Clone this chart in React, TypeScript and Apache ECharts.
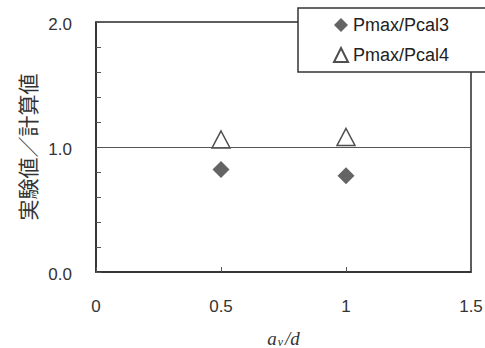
import React, { useEffect, useRef } from "react";
import * as echarts from "echarts";

const xCategories = [0.5, 1];
const seriesNames = ["Pmax/Pcal3", "Pmax/Pcal4"];
const pcal3Values = [0.82, 0.77];
const pcal4Values = [1.06, 1.08];
const xTickLabels = ["0", "0.5", "1", "1.5"];
const yTickLabels = ["0.0", "1.0", "2.0"];

export default function App() {
  const ref = useRef<HTMLDivElement>(null);
  useEffect(() => {
    if (!ref.current) return;
    const chart = echarts.init(ref.current, null, { renderer: "svg" });
    const axisColor = "#2a2a2a";
    chart.setOption({
      animation: false,
      backgroundColor: "#ffffff",
      grid: {
        left: 96,
        top: 22,
        right: 14,
        bottom: 76,
        outerBoundsMode: "none",
        containLabel: false,
        show: true,
        borderColor: axisColor,
        borderWidth: 1.5,
        backgroundColor: "transparent",
      },
      legend: {
        left: 298,
        top: 8,
        orient: "vertical",
        data: seriesNames,
        backgroundColor: "#ffffff",
        borderColor: "#333",
        borderWidth: 1.5,
        borderRadius: 0,
        padding: [8, 40, 8, 35],
        itemWidth: 14,
        itemHeight: 14,
        itemGap: 12,
        itemTextGap: 6,
        textStyle: { fontSize: 18, color: "#222", fontFamily: "Liberation Sans" },
      },
      xAxis: {
        type: "value",
        min: 0,
        max: 1.5,
        interval: 0.5,
        name: "{a|a}{v|v}{d|/d}",
        nameLocation: "middle",
        nameGap: 56,
        nameTextStyle: {
          rich: {
            a: { fontFamily: "Liberation Serif", fontStyle: "italic", fontSize: 19, color: "#333" },
            v: { fontFamily: "Liberation Serif", fontStyle: "italic", fontSize: 12, color: "#333", padding: [8, 2, 0, 1] },
            d: { fontFamily: "Liberation Serif", fontStyle: "italic", fontSize: 19, color: "#333" },
          },
        },
        axisLine: { show: true, lineStyle: { color: axisColor, width: 1.5 } },
        axisTick: { show: true, inside: true, length: 5, lineStyle: { color: "#555" } },
        splitLine: { show: false },
        axisLabel: {
          margin: 26,
          fontSize: 17,
          color: "#333",
          fontFamily: "Liberation Sans",
          formatter: (v: number) => {
            const idx = Math.round(v / 0.5);
            return xTickLabels[idx] ?? "";
          },
        },
      },
      yAxis: {
        type: "value",
        min: 0,
        max: 2,
        interval: 1,
        name: "実験値／計算値",
        nameLocation: "middle",
        nameRotate: 90,
        nameGap: 59,
        nameTextStyle: { fontSize: 21, color: "#333", fontFamily: "Noto Sans CJK JP" },
        axisLine: { show: true, lineStyle: { color: axisColor, width: 1.5 } },
        axisTick: { show: true, inside: true, length: 5, lineStyle: { color: "#555" } },
        minorTick: { show: true, splitNumber: 5, length: 5, lineStyle: { color: "#555" } },
        splitLine: { show: false },
        axisLabel: {
          margin: 24,
          fontSize: 17,
          color: "#333",
          fontFamily: "Liberation Sans",
          verticalAlign: "top",
          lineHeight: 5,
          formatter: (v: number) => yTickLabels[Math.round(v)] ?? "",
        },
      },
      series: [
        {
          name: seriesNames[0],
          type: "scatter",
          symbol: "diamond",
          symbolSize: 17,
          itemStyle: { color: "#3d3d3d" },
          data: xCategories.map((x, i) => [x, pcal3Values[i]]),
          markLine: {
            silent: true,
            symbol: "none",
            label: { show: false },
            lineStyle: { color: "#555", width: 1, type: "solid" },
            data: [{ yAxis: 1 }],
          },
          z: 3,
        },
        {
          name: seriesNames[1],
          type: "scatter",
          symbol: "triangle",
          symbolSize: [18, 17],
          itemStyle: { color: "#ffffff", borderColor: "#222", borderWidth: 1.5 },
          data: xCategories.map((x, i) => [x, pcal4Values[i]]),
          z: 3,
        },
      ],
    });
    return () => chart.dispose();
  }, []);
  return <div ref={ref} style={{ width: 485, height: 348, position: "absolute", left: 0, top: 0 }} />;
}
